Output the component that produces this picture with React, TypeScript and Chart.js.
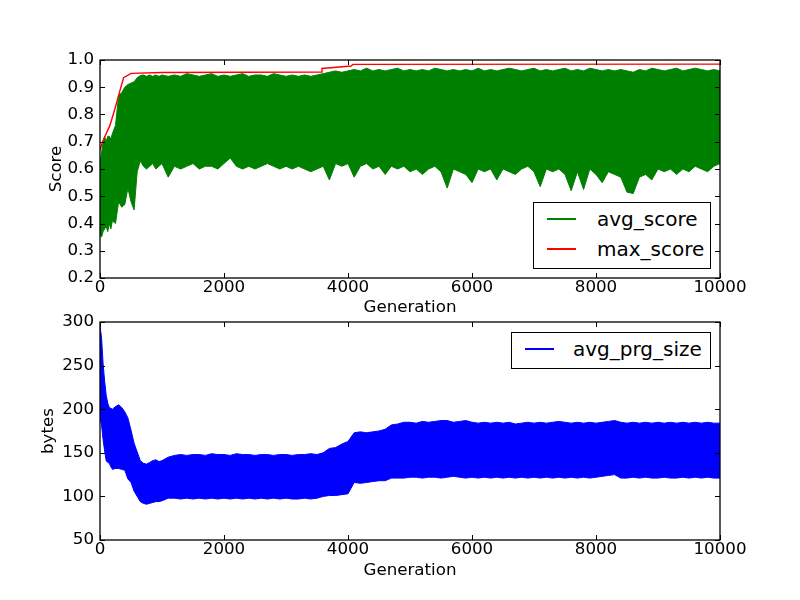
import { useEffect, useRef } from 'react'
import { Chart, registerables } from 'chart.js'

Chart.register(...registerables)

const FONT = '"DejaVu Sans", Verdana, sans-serif'

// generation sample points (finer at the start, where both runs move fast)
const gens = [
  0, 25, 50, 75, 100, 125, 150, 175, 200, 250, 300, 350, 400, 450, 500, 550, 600, 650, 700, 750, 800, 850, 900, 950, 1000,
  1100, 1200, 1300, 1400, 1500, 1600, 1700, 1800, 1900, 2000,
  2100, 2200, 2300, 2400, 2500, 2600, 2700, 2800, 2900, 3000,
  3100, 3200, 3300, 3400, 3500, 3600, 3700, 3800, 3900, 4000,
  4100, 4200, 4300, 4400, 4500, 4600, 4700, 4800, 4900, 5000,
  5100, 5200, 5300, 5400, 5500, 5600, 5700, 5800, 5900, 6000,
  6100, 6200, 6300, 6400, 6500, 6600, 6700, 6800, 6900, 7000,
  7100, 7200, 7300, 7400, 7500, 7600, 7700, 7800, 7900, 8000,
  8100, 8200, 8300, 8400, 8500, 8600, 8700, 8800, 8900, 9000,
  9100, 9200, 9300, 9400, 9500, 9600, 9700, 9800, 9900, 10000,
]

// avg_score is a dense noisy trace: keep its lower / upper envelope
const scoreLow = [
  0.36, 0.35, 0.37, 0.38, 0.39, 0.37, 0.40, 0.38, 0.41, 0.40, 0.48, 0.46, 0.47, 0.53, 0.48, 0.45, 0.59, 0.63, 0.61, 0.60, 0.61, 0.62, 0.60, 0.61, 0.62,
  0.57, 0.61, 0.60, 0.61, 0.62, 0.60, 0.61, 0.61, 0.60, 0.62,
  0.64, 0.61, 0.60, 0.61, 0.60, 0.61, 0.62, 0.61, 0.60, 0.61,
  0.60, 0.61, 0.60, 0.59, 0.60, 0.61, 0.56, 0.62, 0.61, 0.62,
  0.57, 0.61, 0.62, 0.60, 0.61, 0.58, 0.61, 0.60, 0.61, 0.59,
  0.60, 0.58, 0.60, 0.61, 0.59, 0.53, 0.60, 0.59, 0.58, 0.55,
  0.60, 0.59, 0.60, 0.56, 0.60, 0.59, 0.58, 0.60, 0.61, 0.59,
  0.535, 0.60, 0.59, 0.60, 0.58, 0.52, 0.59, 0.525, 0.60, 0.58,
  0.55, 0.59, 0.58, 0.57, 0.515, 0.51, 0.57, 0.58, 0.56, 0.60,
  0.59, 0.60, 0.58, 0.60, 0.59, 0.61, 0.60, 0.59, 0.61, 0.62,
]
const scoreHigh = [
  0.62, 0.66, 0.70, 0.72, 0.70, 0.72, 0.72, 0.71, 0.73, 0.76, 0.87, 0.88, 0.90, 0.91, 0.915, 0.92, 0.935, 0.943, 0.945, 0.94, 0.945, 0.94, 0.945, 0.94, 0.945,
  0.94, 0.945, 0.94, 0.95, 0.945, 0.94, 0.945, 0.95, 0.94, 0.945,
  0.94, 0.945, 0.95, 0.94, 0.945, 0.945, 0.94, 0.95, 0.945, 0.94,
  0.945, 0.94, 0.945, 0.94, 0.945, 0.95, 0.955, 0.96, 0.955, 0.96,
  0.965, 0.96, 0.97, 0.96, 0.965, 0.96, 0.965, 0.97, 0.96, 0.965,
  0.96, 0.965, 0.96, 0.97, 0.965, 0.96, 0.965, 0.96, 0.965, 0.96,
  0.97, 0.96, 0.965, 0.96, 0.965, 0.97, 0.965, 0.96, 0.965, 0.97,
  0.96, 0.965, 0.96, 0.965, 0.97, 0.96, 0.965, 0.96, 0.97, 0.965,
  0.96, 0.965, 0.96, 0.965, 0.96, 0.955, 0.965, 0.96, 0.97, 0.965,
  0.96, 0.965, 0.97, 0.96, 0.965, 0.97, 0.965, 0.96, 0.965, 0.96,
]

// max_score steps
const maxGens = [0, 50, 160, 240, 300, 380, 500, 1000, 3570, 3580, 4050, 4080, 10000]
const maxScore = [0.67, 0.705, 0.76, 0.82, 0.87, 0.935, 0.951, 0.954, 0.956, 0.969, 0.978, 0.984, 0.985]

// avg_prg_size envelope (bytes)
const sizeLow = [
  190, 182, 165, 152, 141, 139, 138, 134, 131, 132, 132, 131, 130, 120, 116, 106, 100, 94, 92, 91, 92, 93, 94, 94, 95,
  98, 98, 97, 98, 97, 98, 97, 98, 97, 98,
  97, 98, 97, 98, 97, 98, 97, 98, 97, 98,
  97, 97, 98, 97, 98, 100, 101, 101, 102, 103,
  116, 115, 116, 117, 118, 118, 121, 121, 121, 122,
  122, 121, 122, 122, 121, 122, 123, 122, 121, 122,
  121, 122, 121, 122, 121, 122, 121, 122, 121, 122,
  121, 122, 121, 122, 121, 122, 121, 122, 121, 122,
  123, 124, 125, 121, 121, 122, 121, 122, 121, 121,
  122, 121, 121, 122, 121, 122, 121, 122, 121, 121,
]
const sizeHigh = [
  295, 282, 252, 232, 216, 207, 202, 201, 200, 203, 205, 202, 197, 190, 176, 161, 151, 141, 138, 137, 139, 141, 142, 140, 141,
  145, 147, 148, 147, 148, 148, 147, 149, 148, 148,
  147, 149, 148, 148, 147, 148, 148, 147, 148, 148,
  147, 148, 148, 149, 148, 150, 155, 156, 160, 163,
  173, 174, 173, 174, 175, 177, 182, 183, 185, 185,
  184, 186, 185, 186, 187, 187, 185, 186, 187, 185,
  184, 185, 184, 185, 184, 185, 183, 184, 185, 184,
  185, 184, 185, 186, 185, 184, 185, 184, 185, 184,
  185, 186, 187, 185, 184, 185, 184, 185, 184, 185,
  184, 185, 184, 185, 184, 185, 184, 185, 184, 184,
]

const pts = (xs: number[], ys: number[]) => xs.map((x, i) => ({ x, y: ys[i] }))

// matplotlib-style frame with ticks pointing inwards on all four sides
const frameTicks = {
  id: 'frameTicks',
  afterDraw(chart: any) {
    const { ctx, chartArea: a, scales } = chart
    const len = 5
    ctx.save()
    ctx.strokeStyle = '#000'
    ctx.lineWidth = 1
    ctx.beginPath()
    for (const t of scales.x.ticks) {
      const px = Math.round(scales.x.getPixelForValue(t.value)) + 0.5
      ctx.moveTo(px, a.bottom); ctx.lineTo(px, a.bottom - len)
      ctx.moveTo(px, a.top); ctx.lineTo(px, a.top + len)
    }
    for (const t of scales.y.ticks) {
      const py = Math.round(scales.y.getPixelForValue(t.value)) + 0.5
      ctx.moveTo(a.left, py); ctx.lineTo(a.left + len, py)
      ctx.moveTo(a.right, py); ctx.lineTo(a.right - len, py)
    }
    ctx.stroke()
    ctx.lineWidth = 1.3
    ctx.strokeRect(a.left, a.top, a.right - a.left, a.bottom - a.top)
    ctx.restore()
  },
}

interface PanelProps {
  width: number
  height: number
  datasets: any[]
  yMin: number
  yMax: number
  yStep: number
  yTitle: string
  yFmt: (v: number) => string
  padding: { top: number; right: number; bottom: number; left: number }
  xAxisHeight: number
  xTitlePad: number
  yTitlePad: number
}

function Panel(p: PanelProps) {
  const canvasRef = useRef<HTMLCanvasElement>(null)
  const chartRef = useRef<Chart | null>(null)

  useEffect(() => {
    if (!canvasRef.current) return
    if (chartRef.current) chartRef.current.destroy()

    const tickFont = { family: FONT, size: 16.7, lineHeight: 1.2 }

    chartRef.current = new Chart(canvasRef.current, {
      type: 'line',
      data: { datasets: p.datasets },
      options: {
        responsive: false,
        animation: false,
        layout: { padding: p.padding },
        plugins: { legend: { display: false }, tooltip: { enabled: false } },
        elements: { point: { radius: 0 }, line: { tension: 0 } },
        scales: {
          x: {
            type: 'linear',
            min: 0,
            max: 10000,
            grid: { display: false, drawTicks: false },
            border: { display: false },
            ticks: { stepSize: 2000, padding: 0, color: '#000', font: tickFont, callback: v => String(v) },
            title: { display: true, text: 'Generation', color: '#000', font: tickFont, padding: { top: 0, bottom: p.xTitlePad } },
            afterFit: (s: any) => { s.height = p.xAxisHeight },
          },
          y: {
            min: p.yMin,
            max: p.yMax,
            grid: { display: false, drawTicks: false },
            border: { display: false },
            ticks: { stepSize: p.yStep, padding: 6, color: '#000', font: tickFont, callback: v => p.yFmt(Number(v)) },
            title: { display: true, text: p.yTitle, color: '#000', font: tickFont, padding: { top: p.yTitlePad, bottom: 0 } },
            afterFit: (s: any) => { s.width = 100 },
          },
        },
      },
      plugins: [frameTicks],
    })

    return () => { chartRef.current?.destroy() }
  }, [])

  return <canvas ref={canvasRef} width={p.width} height={p.height} style={{ display: 'block' }} />
}

interface LegendItem { label: string; color: string; y: number }

function LegendBox({ left, top, width, height, lineX, textGap, items }:
  { left: number; top: number; width: number; height: number; lineX: number; textGap: number; items: LegendItem[] }) {
  return (
    <div style={{
      position: 'absolute', left, top, width, height, boxSizing: 'border-box',
      border: '1px solid #000', background: '#fff', fontFamily: FONT, fontSize: 20, color: '#000',
    }}>
      {items.map(it => (
        <div key={it.label} style={{
          position: 'absolute', left: 0, top: it.y - top - 13, height: 26,
          display: 'flex', alignItems: 'center', whiteSpace: 'nowrap',
        }}>
          <div style={{ marginLeft: lineX, width: 29, height: 1.5, background: it.color }} />
          <span style={{ marginLeft: textGap, lineHeight: '26px' }}>{it.label}</span>
        </div>
      ))}
    </div>
  )
}

export default function App() {
  const green = '#008000'
  const red = '#ff0000'
  const blue = '#0000ff'

  const topSets = [
    { label: 'avg_score', data: pts(gens, scoreHigh), borderColor: green, backgroundColor: green, borderWidth: 1, fill: 1, order: 1 },
    { label: 'avg_score_low', data: pts(gens, scoreLow), borderColor: green, borderWidth: 1, fill: false, order: 2 },
    { label: 'max_score', data: pts(maxGens, maxScore), borderColor: red, borderWidth: 1.4, fill: false, order: 0 },
  ]
  const bottomSets = [
    { label: 'avg_prg_size', data: pts(gens, sizeHigh), borderColor: blue, backgroundColor: blue, borderWidth: 1, fill: 1 },
    { label: 'avg_prg_size_low', data: pts(gens, sizeLow), borderColor: blue, borderWidth: 1, fill: false },
  ]

  return (
    <div style={{ position: 'absolute', left: 0, top: 0, width: 800, height: 600, background: '#fff' }}>
      <div style={{ position: 'absolute', left: 0, top: 0 }}>
        <Panel width={800} height={320} datasets={topSets}
          yMin={0.2} yMax={1.0} yStep={0.1} yTitle="Score" yFmt={v => v.toFixed(1)}
          padding={{ top: 60, right: 80, bottom: 0, left: 0 }}
          xAxisHeight={42} xTitlePad={2} yTitlePad={47} />
      </div>
      <div style={{ position: 'absolute', left: 0, top: 300 }}>
        <Panel width={800} height={300} datasets={bottomSets}
          yMin={50} yMax={300} yStep={50} yTitle="bytes" yFmt={v => String(v)}
          padding={{ top: 22, right: 80, bottom: 0, left: 0 }}
          xAxisHeight={60} xTitlePad={19} yTitlePad={39} />
      </div>
      <LegendBox left={533} top={202} width={178} height={67} lineX={13} textGap={21}
        items={[{ label: 'avg_score', color: green, y: 218 }, { label: 'max_score', color: red, y: 248 }]} />
      <LegendBox left={511} top={332} width={200} height={37} lineX={13} textGap={19}
        items={[{ label: 'avg_prg_size', color: blue, y: 348 }]} />
    </div>
  )
}
